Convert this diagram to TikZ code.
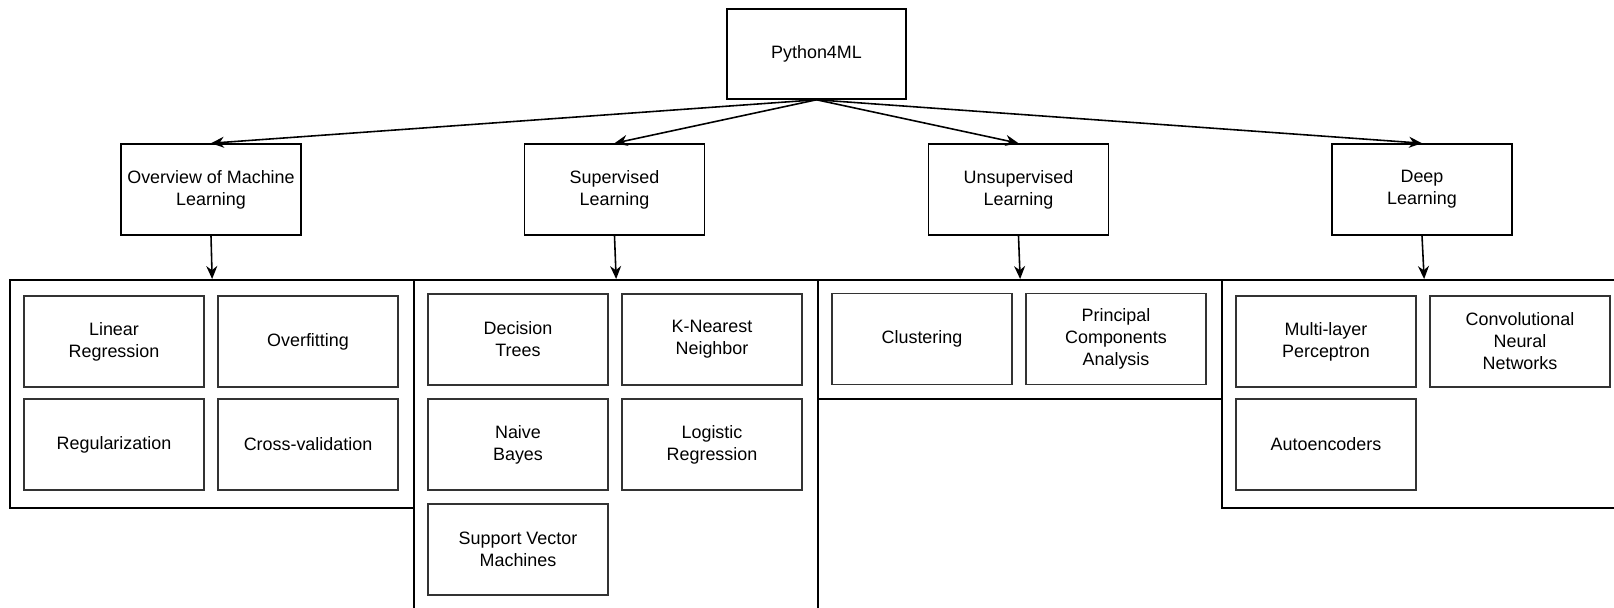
\documentclass[tikz,border=0pt]{standalone}
\usepackage{fontspec}
\setmainfont{Liberation Sans}
\usetikzlibrary{arrows.meta}

\tikzset{
  topic/.style={draw, line width=0.9pt, minimum width=3.6cm, minimum height=1.82cm,
    inner sep=0pt, align=center, font=\fontsize{10.2}{12.5}\selectfont},
  item/.style={topic, draw=black!80, line width=1pt},
  group/.style={draw, line width=0.9pt, anchor=north west, minimum width=8.08cm, inner sep=0pt},
  link/.style={-{Stealth[length=2.6mm,width=2.2mm]}, line width=0.9pt},
}

\begin{document}
\begin{tikzpicture}[x=0.02cm, y=-0.02cm]
    \useasboundingbox (0,0) rectangle (1614,608);

    % Root
    \node[topic, minimum width=3.58cm, minimum height=1.8cm] (root) at (816.5,54) {Python4ML};

    % Topics
    \node[topic] (overview) at (211,189.5) {Overview of Machine\\Learning};
    \node[topic] (sup) at (614.5,189.5) {Supervised\\Learning};
    \node[topic] (unsup) at (1018.5,189.5) {Unsupervised\\Learning};
    \node[topic] (deep) at (1422,189.5) {Deep\\Learning};

    \foreach \t in {overview,sup,unsup,deep}
        \draw[link] (root.south) -- (\t.north);

    % Groups
    \node[group, minimum height=4.56cm] (grpov) at (9.4,279) {};
    \node[group, minimum height=6.72cm] (grpsup) at (413.4,279) {};
    \node[group, minimum height=2.38cm] (grpunsup) at (817.4,279) {};
    \node[group, minimum height=4.56cm] (grpdeep) at (1221.4,279) {};

    \draw[link] (overview.south) -- (grpov.north);
    \draw[link] (sup.south) -- (grpsup.north);
    \draw[link] (unsup.south) -- (grpunsup.north);
    \draw[link] (deep.south) -- (grpdeep.north);

    % Overview items
    \node[item] (linreg) at (114,341.5) {Linear\\Regression};
    \node[item] (overfit) at (308,341.5) {Overfitting};
    \node[item] (regul) at (114,444.5) {Regularization};
    \node[item] (crossval) at (308,444.5) {Cross-validation};

    % Supervised items
    \node[item] (dtree) at (518,339.5) {Decision\\Trees};
    \node[item] (knn) at (712,339.5) {K-Nearest\\Neighbor};
    \node[item] (nbayes) at (518,444.5) {Naive\\Bayes};
    \node[item] (logreg) at (712,444.5) {Logistic\\Regression};
    \node[item] (svm) at (518,549.5) {Support Vector\\Machines};

    % Unsupervised items
    \node[item] (clust) at (922,339) {Clustering};
    \node[item] (pca) at (1116,339) {Principal\\Components\\Analysis};

    % Deep items
    \node[item] (mlp) at (1326,341.5) {Multi-layer\\Perceptron};
    \node[item] (cnn) at (1520,341.5) {Convolutional\\Neural\\Networks};
    \node[item] (autoenc) at (1326,444.5) {Autoencoders};

\end{tikzpicture}
\end{document}
